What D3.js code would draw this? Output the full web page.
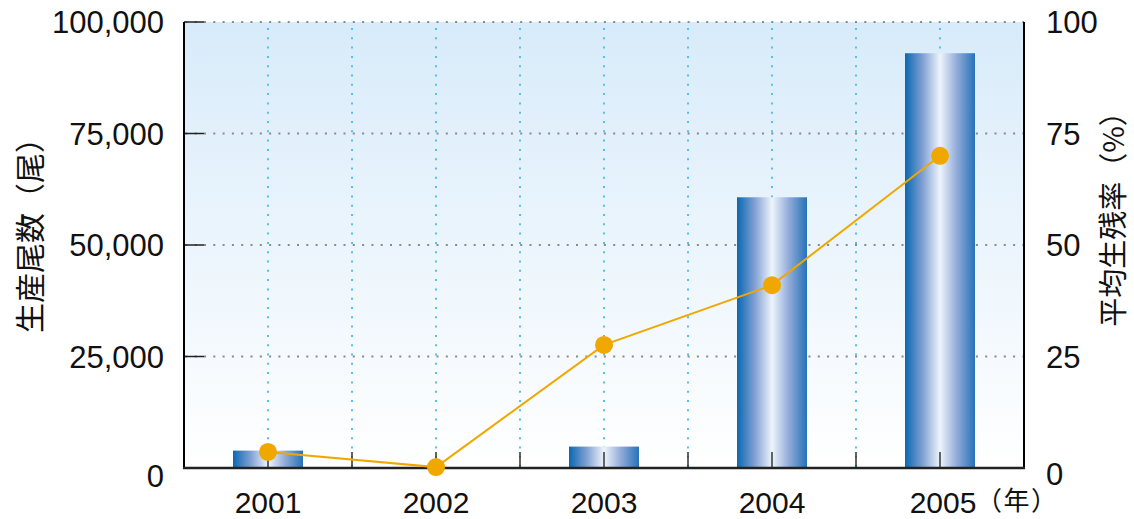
<!DOCTYPE html>
<html><head><meta charset="utf-8">
<script src="https://cdn.jsdelivr.net/npm/d3@7"></script>
<style>body{margin:0;background:#fff}svg{display:block}</style>
</head><body><svg id="c" width="1134" height="519"></svg>
<script>
const years = ["2001","2002","2003","2004","2005"];
const production = [3900, 0, 4800, 60700, 93000];
const survival = [3.6, 0.2, 27.6, 41.0, 70.0];
const leftTicks = [0, 25000, 50000, 75000, 100000];
const rightTicks = [0, 25, 50, 75, 100];
const leftTitle = "生産尾数（尾）";
const rightTitle = "平均生残率（%）";
const xUnit = "（年）";

const svg = d3.select("#c");
const L = 184, R = 1024, T = 22, B = 468;
const x = d3.scaleBand().domain(years).range([L, R]);
const yL = d3.scaleLinear().domain([0, 100000]).range([B, T]);
const yR = d3.scaleLinear().domain([0, 100]).range([B, T]);
const font = "'Liberation Sans', Arial, sans-serif";
const cjk = "'Noto Sans CJK JP', sans-serif";

const defs = svg.append("defs");
const bg = defs.append("linearGradient").attr("id","bg").attr("x1",0).attr("y1",0).attr("x2",0).attr("y2",1);
bg.append("stop").attr("offset","0%").attr("stop-color","#d8ebfa");
bg.append("stop").attr("offset","100%").attr("stop-color","#ffffff");
const bar = defs.append("linearGradient").attr("id","bar").attr("x1",0).attr("y1",0).attr("x2",1).attr("y2",0);
[["0%","#0a68b2"],["25%","#7f9fd2"],["50%","#eef4fb"],["75%","#8ea9d8"],["100%","#2672b8"]]
  .forEach(([o,c]) => bar.append("stop").attr("offset",o).attr("stop-color",c));

svg.append("rect").attr("x",L).attr("y",T).attr("width",R-L).attr("height",B-T).attr("fill","url(#bg)");

// horizontal gray dotted grid
svg.append("g").selectAll("line").data(leftTicks.filter(d=>d>0)).join("line")
  .attr("x1",L).attr("x2",R).attr("y1",d=>yL(d)).attr("y2",d=>yL(d))
  .attr("stroke","#8a8a8a").attr("stroke-width",2).attr("stroke-dasharray","2,7.3").attr("stroke-dashoffset",-20);

// vertical blue dotted grid: centers and boundaries
const bounds = years.slice(1).map(d => x(d));
const centers = years.map(d => x(d) + x.bandwidth()/2);
svg.append("g").selectAll("line").data(centers.concat(bounds)).join("line")
  .attr("x1",d=>d).attr("x2",d=>d).attr("y1",T+6).attr("y2",B)
  .attr("stroke","#54c0ef").attr("stroke-width",2).attr("stroke-dasharray","2,7.3");

// bars
const bw = 70;
svg.append("g").selectAll("rect").data(years).join("rect")
  .attr("x",(d)=>x(d)+x.bandwidth()/2-bw/2).attr("width",bw)
  .attr("y",(d,i)=>yL(production[i])).attr("height",(d,i)=>B-yL(production[i]))
  .attr("fill","url(#bar)");

// bottom ticks
svg.append("g").selectAll("line").data(centers.concat(bounds)).join("line")
  .attr("x1",d=>d).attr("x2",d=>d).attr("y1",B-16).attr("y2",B)
  .attr("stroke","#333").attr("stroke-width",1.5);

// left inner ticks
svg.append("g").selectAll("line").data(leftTicks).join("line")
  .attr("x1",L).attr("x2",L+20).attr("y1",d=>yL(d)).attr("y2",d=>yL(d))
  .attr("stroke","#222").attr("stroke-width",1.5);

// axes lines
svg.append("line").attr("x1",L).attr("x2",L).attr("y1",T).attr("y2",B+1).attr("stroke","#000").attr("stroke-width",2);
svg.append("line").attr("x1",R).attr("x2",R).attr("y1",T).attr("y2",B+1).attr("stroke","#000").attr("stroke-width",2);
svg.append("line").attr("x1",L-1).attr("x2",R+1).attr("y1",B).attr("y2",B).attr("stroke","#222").attr("stroke-width",2.5);

// line series
const pts = years.map((d,i)=>[x(d)+x.bandwidth()/2, yR(survival[i])]);
svg.append("path").attr("d", d3.line()(pts)).attr("fill","none").attr("stroke","#f0a800").attr("stroke-width",2);
svg.append("g").selectAll("circle").data(pts).join("circle")
  .attr("cx",d=>d[0]).attr("cy",d=>d[1]).attr("r",9).attr("fill","#f0a800");

// tick labels
const fmt = d3.format(",");
svg.append("g").selectAll("text").data(leftTicks).join("text")
  .attr("x",L-20).attr("y",d=>yL(d)+(d===0?8:0)).attr("dy","0.36em")
  .attr("text-anchor","end").attr("font-family",font).attr("font-size",31).attr("fill","#111")
  .text(d=>fmt(d));
svg.append("g").selectAll("text").data(rightTicks).join("text")
  .attr("x",R+22).attr("y",d=>yR(d)+(d===0?6:0)).attr("dy","0.36em")
  .attr("text-anchor","start").attr("font-family",font).attr("font-size",31).attr("fill","#111")
  .text(d=>d);
svg.append("g").selectAll("text").data(years).join("text")
  .attr("x",d=>x(d)+x.bandwidth()/2 + (d==="2005"?3:0)).attr("y",502).attr("dy","0.36em")
  .attr("text-anchor","middle").attr("font-family",font).attr("font-size",30).attr("fill","#111")
  .text(d=>d);
svg.append("text").attr("x",x("2005")+x.bandwidth()/2+36).attr("y",501).attr("dy","0.36em")
  .attr("letter-spacing",1.5)
  .attr("font-family",cjk).attr("font-size",26).attr("fill","#111").text(xUnit);

// axis titles
svg.append("text").attr("transform","translate(30,228) rotate(-90)")
  .attr("text-anchor","middle").attr("dy","0.36em").attr("font-family",cjk).attr("font-size",30).attr("fill","#111")
  .text(leftTitle);
svg.append("text").attr("transform","translate(1114,212) rotate(-90)")
  .attr("text-anchor","middle").attr("dy","0.36em").attr("font-family",cjk).attr("font-size",29).attr("fill","#111")
  .text(rightTitle);
</script></body></html>
